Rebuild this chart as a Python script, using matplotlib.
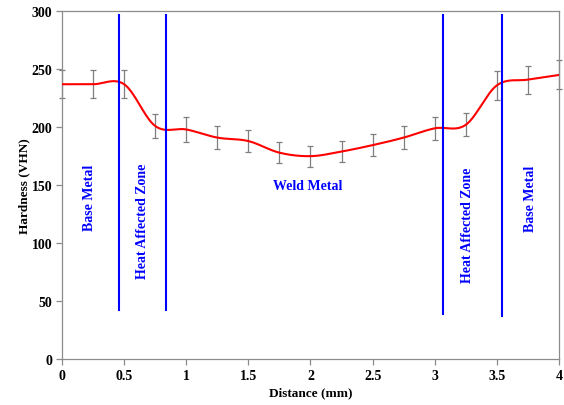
import numpy as np
import matplotlib
matplotlib.use("Agg")
import matplotlib.pyplot as plt

plt.rcParams['font.family'] = ['Liberation Serif', 'DejaVu Serif']
plt.rcParams['font.weight'] = 'bold'

# ----------------------------
# data
# ----------------------------
distance = [0, 0.25, 0.5, 0.75, 1.0, 1.25, 1.5, 1.75, 2.0, 2.25, 2.5, 2.75, 3.0, 3.25, 3.5, 3.75, 4.0]
hardness = [237, 237, 237, 201, 198, 191, 188, 178, 175, 179, 184.5, 191, 199, 202, 236, 241, 245]
err = [12, 12, 12, 10, 10.5, 10, 9.5, 9, 9, 9, 9.5, 10, 10, 10, 12.5, 12, 12.5]

# zone boundaries (x, bottom y)
zone_x = [0.46, 0.837, 3.066, 3.54]
zone_bottom = [42, 42, 39, 37]

zone_labels = ["Base Metal", "Heat Affected Zone", "Weld Metal", "Heat Affected Zone", "Base Metal"]
zone_label_x = [0.225, 0.644, 1.98, 3.26, 3.77]
zone_label_y = [140, 120, 150, 116, 139]
zone_label_rot = [90, 90, 0, 90, 90]


# excel-like smoothed line (catmull-rom between the points)
def smooth(xs, ys, n=30):
    xs = np.asarray(xs, float)
    ys = np.asarray(ys, float)
    px = np.concatenate([[xs[0]], xs, [xs[-1]]])
    py = np.concatenate([[ys[0]], ys, [ys[-1]]])
    ox, oy = [], []
    for i in range(1, len(px) - 2):
        t = np.linspace(0, 1, n)
        for arr, out in ((px, ox), (py, oy)):
            p0, p1, p2, p3 = arr[i - 1], arr[i], arr[i + 1], arr[i + 2]
            out.extend(0.5 * ((2 * p1) + (-p0 + p2) * t
                              + (2 * p0 - 5 * p1 + 4 * p2 - p3) * t ** 2
                              + (-p0 + 3 * p1 - 3 * p2 + p3) * t ** 3))
    return np.array(ox), np.array(oy)


fig = plt.figure(figsize=(5.64, 4.06), dpi=100)
ax = fig.add_axes([0.110, 0.113, 0.881, 0.857])

sx, sy = smooth(distance, hardness)
ax.plot(sx, sy, color="red", lw=1.5, zorder=3)
ax.errorbar(distance, hardness, yerr=err, fmt="none", ecolor="#7f7f7f",
            elinewidth=0.9, capsize=2.2, capthick=0.9, zorder=2, clip_on=False)

for x, b in zip(zone_x, zone_bottom):
    ax.plot([x, x], [b, 296.5], color="#0000ff", lw=1.5, zorder=4)

for lab, x, y, r in zip(zone_labels, zone_label_x, zone_label_y, zone_label_rot):
    ax.text(x, y, lab, color="#0000ff", fontsize=10, fontweight="bold",
            rotation=r, ha="center", va="center")

ax.set_xlim(0, 4)
ax.set_ylim(0, 300)
ax.set_xticks([0, 0.5, 1, 1.5, 2, 2.5, 3, 3.5, 4])
ax.set_xticklabels(["0", "0.5", "1", "1.5", "2", "2.5", "3", "3.5", "4"])
ax.set_yticks([0, 50, 100, 150, 200, 250, 300])

for s in ax.spines.values():
    s.set_color("#8c8c8c")
    s.set_linewidth(0.9)
ax.tick_params(direction="out", length=4, width=0.9, color="#8c8c8c",
               labelsize=10, pad=3)
for lbl in ax.get_xticklabels() + ax.get_yticklabels():
    lbl.set_fontweight("bold")

ax.set_xlabel("Distance (mm)", fontsize=9.5, fontweight="bold", labelpad=3)
ax.set_ylabel("Hardness (VHN)", fontsize=9.5, fontweight="bold", labelpad=1)

fig.savefig("out.png", dpi=100)
